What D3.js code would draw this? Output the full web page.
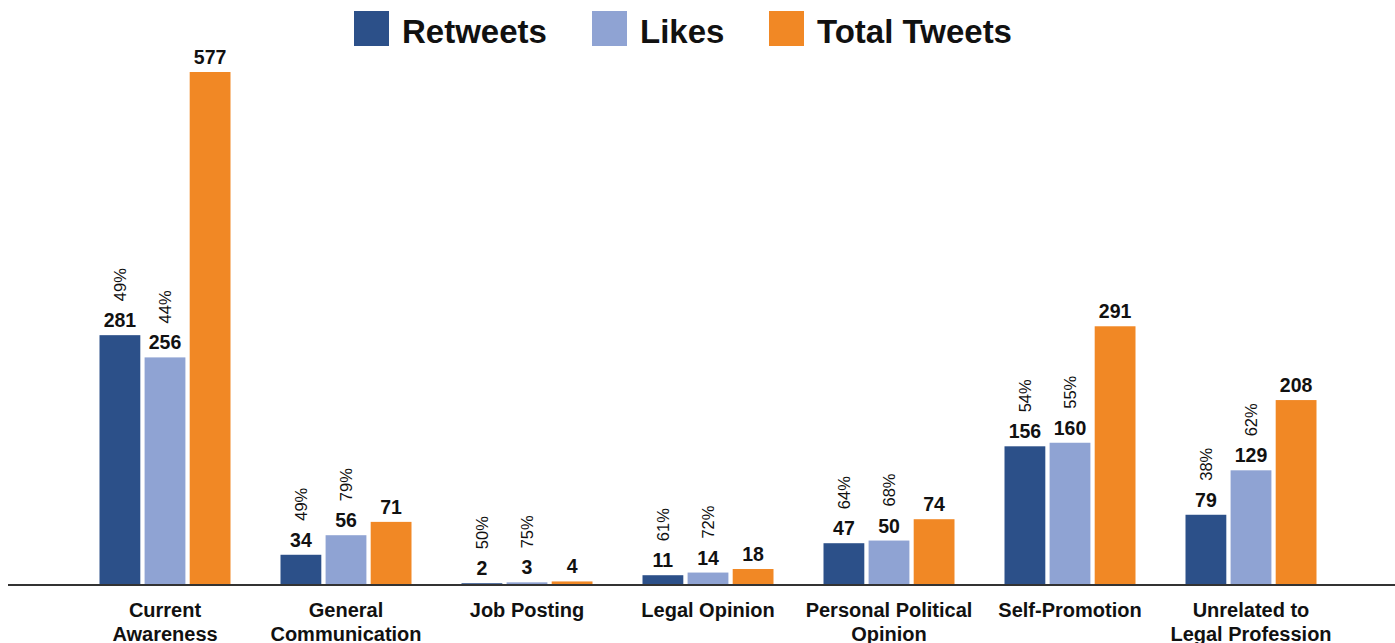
<!DOCTYPE html>
<meta charset="utf-8">
<script src="https://d3js.org/d3.v7.min.js"></script>
<style>
  body { margin: 0; background: #fff; }
  text { font-family: "Liberation Sans", Arial, Helvetica, sans-serif; }
</style>
<div id="chart"></div>
<script>

// data
var categories = ["Current Awareness", "General Communication", "Job Posting", "Legal Opinion",
                  "Personal Political Opinion", "Self-Promotion", "Unrelated to Legal Profession"];
var tickLines = [["Current", "Awareness"], ["General", "Communication"], ["Job Posting"], ["Legal Opinion"],
                 ["Personal Political", "Opinion"], ["Self-Promotion"], ["Unrelated to", "Legal Profession"]];
var retweets = [281, 34, 2, 11, 47, 156, 79];
var likes = [256, 56, 3, 14, 50, 160, 129];
var totalTweets = [577, 71, 4, 18, 74, 291, 208];
var retweetPct = ["49%", "49%", "50%", "61%", "64%", "54%", "38%"];
var likesPct = ["44%", "79%", "75%", "72%", "68%", "55%", "62%"];

var seriesNames = ["Retweets", "Likes", "Total Tweets"];
var colors = ["#2c5089", "#8fa3d3", "#f18825"];

var width = 1395, height = 643;
var baseY = 585;

var svg = d3.select("#chart").append("svg")
    .attr("width", width)
    .attr("height", height);

// scales
var x0 = d3.scaleBand()
    .domain(categories)
    .range([74.5, 74.5 + 181 * 7])
    .padding(0);

var x1 = d3.scaleBand()
    .domain(seriesNames)
    .range([-65.5, 65.5])
    .paddingInner(0.095);

var y = d3.scaleLinear()
    .domain([0, 577])
    .range([baseY, 72]);

var color = d3.scaleOrdinal().domain(seriesNames).range(colors);

// build rows from the arrays
var rows = categories.map(function(c, i) {
  return {
    cat: c,
    bars: [
      {key: "Retweets", value: retweets[i], pct: retweetPct[i]},
      {key: "Likes", value: likes[i], pct: likesPct[i]},
      {key: "Total Tweets", value: totalTweets[i], pct: null}
    ]
  };
});

var groups = svg.selectAll("g.group")
    .data(rows)
  .enter().append("g")
    .attr("class", "group")
    .attr("transform", function(d) {
      return "translate(" + (x0(d.cat) + x0.bandwidth() / 2) + ",0)";
    });

groups.selectAll("rect")
    .data(function(d) { return d.bars; })
  .enter().append("rect")
    .attr("x", function(d) { return x1(d.key); })
    .attr("y", function(d) { return y(d.value); })
    .attr("width", x1.bandwidth())
    .attr("height", function(d) { return baseY - y(d.value); })
    .attr("fill", function(d) { return color(d.key); });

// value labels
groups.selectAll("text.val")
    .data(function(d) { return d.bars; })
  .enter().append("text")
    .attr("class", "val")
    .attr("x", function(d) { return x1(d.key) + x1.bandwidth() / 2; })
    .attr("y", function(d) { return y(d.value) - 8; })
    .attr("text-anchor", "middle")
    .attr("font-size", "19.5px")
    .attr("font-weight", "bold")
    .attr("fill", "#111")
    .text(function(d) { return d.value; });

// percent labels (rotated)
groups.selectAll("text.pct")
    .data(function(d) { return d.bars.filter(function(b) { return b.pct; }); })
  .enter().append("text")
    .attr("class", "pct")
    .attr("transform", function(d) {
      var cx = x1(d.key) + x1.bandwidth() / 2 + 6;
      return "translate(" + cx + "," + (y(d.value) - 34) + ") rotate(-90)";
    })
    .attr("text-anchor", "start")
    .attr("font-size", "16.5px")
    .attr("fill", "#111")
    .text(function(d) { return d.pct; });

// x axis
var xAxis = d3.axisBottom(x0).tickSize(0).tickFormat("");
var xa = svg.append("g")
    .attr("transform", "translate(0," + baseY + ")")
    .call(xAxis);
xa.select(".domain").remove();

xa.append("line")
    .attr("x1", 8)
    .attr("x2", width)
    .attr("y1", 0)
    .attr("y2", 0)
    .attr("stroke", "#333")
    .attr("stroke-width", 2);

xa.selectAll(".tick").each(function(d, i) {
  var t = d3.select(this).append("text")
      .attr("fill", "#111")
      .attr("text-anchor", "middle")
      .attr("font-size", "20px")
      .attr("font-weight", "bold")
      .attr("y", 32);
  tickLines[i].forEach(function(line, j) {
    t.append("tspan")
      .attr("x", 0)
      .attr("dy", j === 0 ? 0 : 24)
      .text(line);
  });
});

// legend
var legendX = [354, 592, 769];
var legend = svg.selectAll("g.legend")
    .data(seriesNames)
  .enter().append("g")
    .attr("class", "legend")
    .attr("transform", function(d, i) { return "translate(" + legendX[i] + ",11)"; });

legend.append("rect")
    .attr("width", 35)
    .attr("height", 35)
    .attr("fill", function(d) { return color(d); });

legend.append("text")
    .attr("x", 48)
    .attr("y", 32)
    .attr("font-size", "33px")
    .attr("font-weight", "bold")
    .attr("fill", "#111")
    .text(function(d) { return d; });

</script>
